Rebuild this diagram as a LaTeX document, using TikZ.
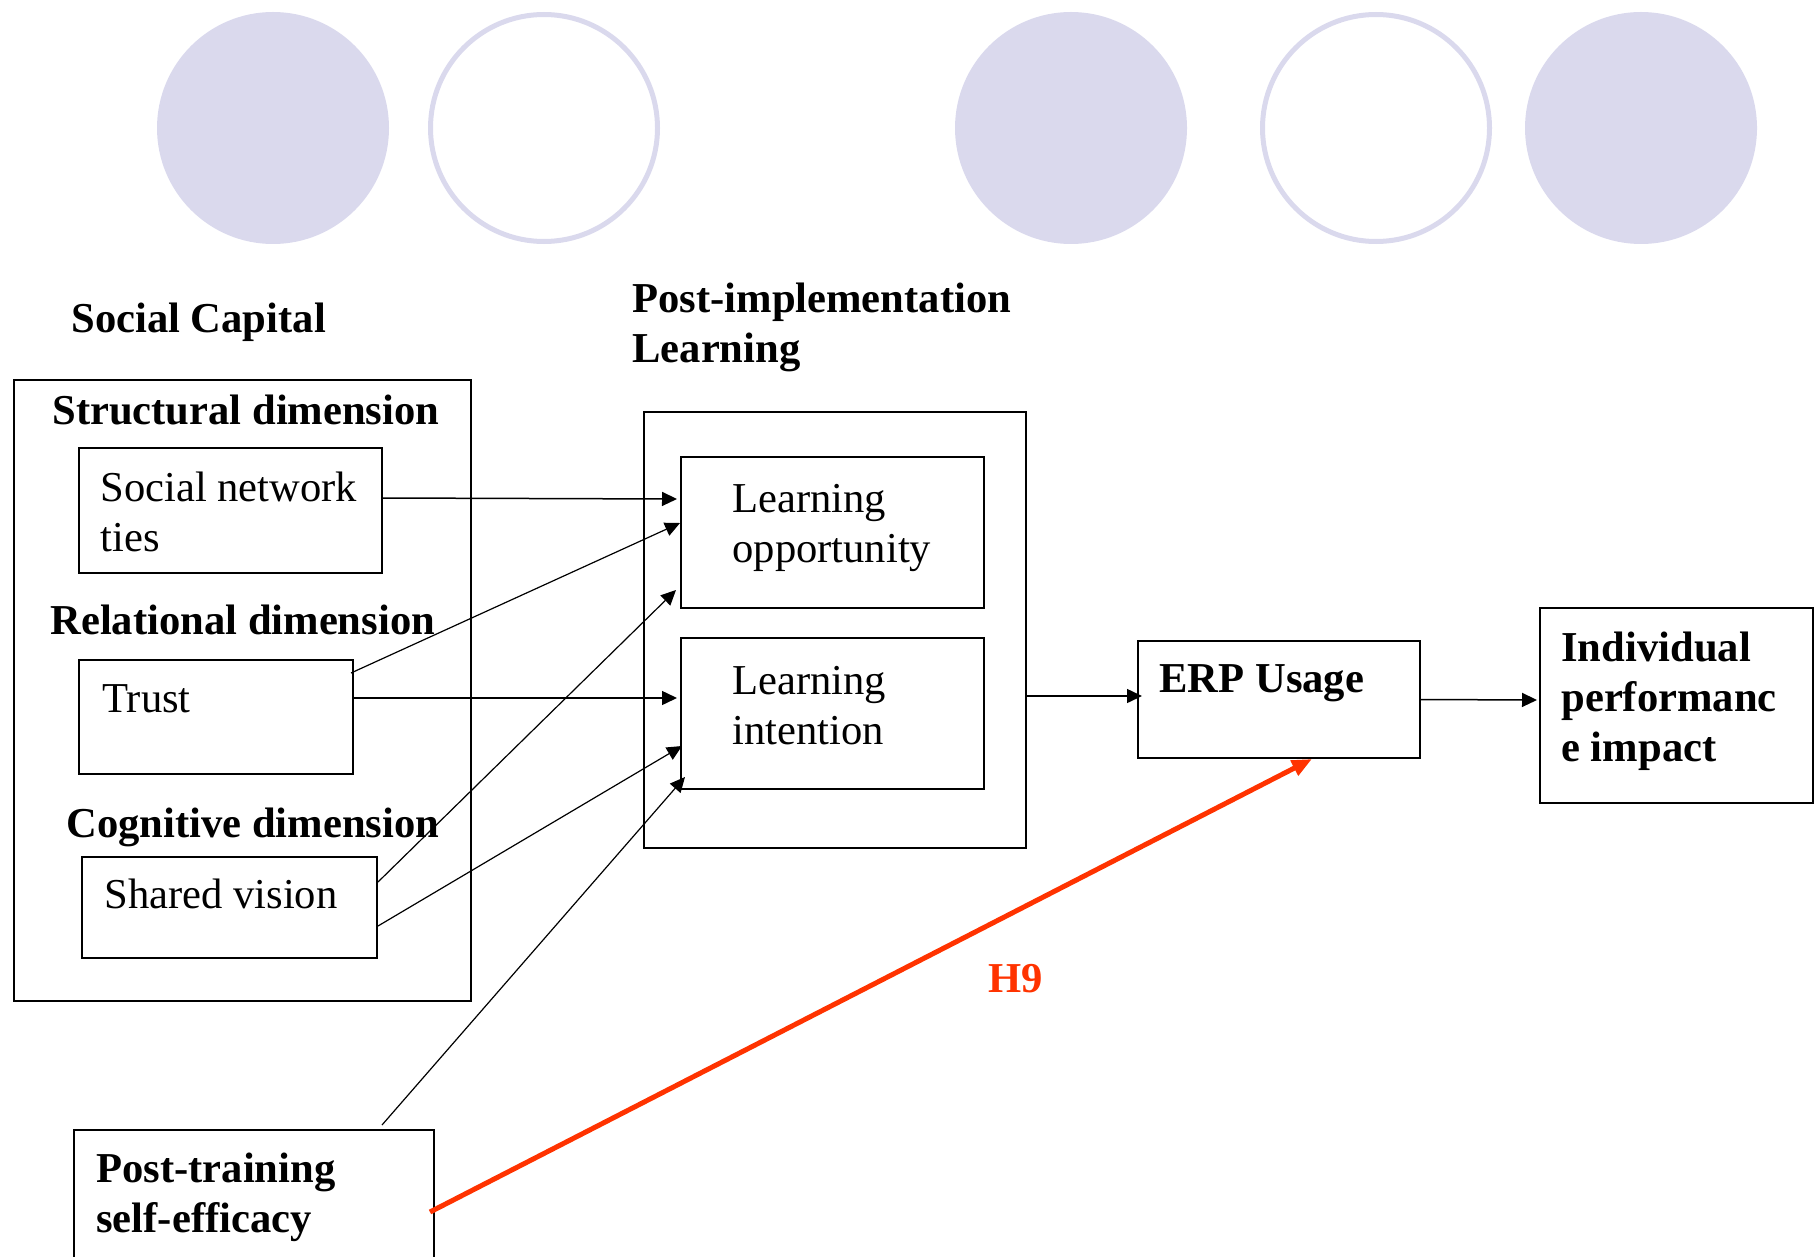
\documentclass[tikz,border=0pt]{standalone}
\usepackage{fontspec}
\setmainfont{Liberation Serif}
\usetikzlibrary{arrows.meta}
\definecolor{lav}{RGB}{218,217,237}
\definecolor{hred}{RGB}{255,51,0}
% left-aligned stack of lines whose baseline is that of the first line
\newcommand\linestack[1]{\begin{tabular}[t]{@{}l@{}}#1\end{tabular}}
\begin{document}
\begin{tikzpicture}[x=0.5pt,y=-0.5pt,
  box/.style={draw, line width=1pt, rectangle, inner sep=0pt},
  lbl/.style={anchor=base west, inner sep=0pt, font=\fontsize{21.3}{25}\selectfont},
  hd/.style={anchor=base west, inner sep=0pt, font=\fontsize{21.3}{25}\selectfont\bfseries},
  link/.style={line width=0.75pt, -{Triangle[length=7.5pt,width=7pt]}},
]
\useasboundingbox (0,0) rectangle (1814,1257);
\clip (0,0) rectangle (1814,1257);

% decorative discs along the top
\fill[lav] (273,128) circle[radius=58pt];
\draw[lav, line width=2.5pt] (544,128) circle[radius=56.75pt];
\fill[lav] (1071,128) circle[radius=58pt];
\draw[lav, line width=2.5pt] (1376,128) circle[radius=56.75pt];
\fill[lav] (1641,128) circle[radius=58pt];

% group headings
\node[hd] (schead) at (71,332) {Social Capital};
\node[hd] (plhead) at (632,312) {\linestack{Post-implementation\\Learning}};

% social capital group
\node[box, minimum width=228.5pt, minimum height=310.5pt] (sc) at (242.5,690.5) {};
\node[hd] (structural) at (52,424) {Structural dimension};
\node[box, minimum width=151.5pt, minimum height=62.5pt] (snt) at (230.5,510.5) {};
\node[lbl] (snttext) at (100,501) {\linestack{Social network\\ties}};
\node[hd] (relational) at (50,634) {Relational dimension};
\node[box, minimum width=137pt, minimum height=57pt] (trust) at (216,717) {};
\node[lbl] (trusttext) at (102,712) {Trust};
\node[hd] (cognitive) at (66,837) {Cognitive dimension};
\node[box, minimum width=147.5pt, minimum height=50.5pt] (sv) at (229.5,907.5) {};
\node[lbl] (svtext) at (104,908) {Shared vision};

% post-implementation learning group
\node[box, minimum width=191pt, minimum height=218pt] (lbox) at (835,630) {};
\node[box, minimum width=151.5pt, minimum height=75.5pt] (lo) at (832.5,532.5) {};
\node[lbl] (lotext) at (732,512) {\linestack{Learning\\opportunity}};
\node[box, minimum width=151.5pt, minimum height=75.5pt] (li) at (832.5,713.5) {};
\node[lbl] (litext) at (732,694) {\linestack{Learning\\intention}};

% outcomes
\node[box, minimum width=141pt, minimum height=58.5pt] (erp) at (1279,699.5) {};
\node[hd] (erptext) at (1159,692) {ERP Usage};
\node[box, minimum width=136.5pt, minimum height=97.5pt] (indiv) at (1676.5,705.5) {};
\node[hd] (indivtext) at (1561,661) {\linestack{Individual\\performanc\\e impact}};

% self-efficacy
\node[box, minimum width=180pt, minimum height=80pt] (pt) at (254,1210) {};
\node[hd] (pttext) at (96,1182) {\linestack{Post-training\\self-efficacy}};

% paths
\draw[link] ([yshift=6.25pt]snt.east) -- ([xshift=-1.5pt,yshift=16.75pt]lo.west);
\draw[link, line width=0.6pt] ([xshift=-1.5pt,yshift=-7pt]trust.north east) -- ([yshift=4.75pt]lo.west);
\draw[link] ([yshift=9.5pt]trust.east) -- ([xshift=-1.5pt,yshift=7.75pt]li.west);
\draw[link, line width=0.6pt] ([yshift=12.75pt]sv.east) -- ([xshift=-2pt,yshift=-28.75pt]lo.west);
\draw[link, line width=0.6pt] ([yshift=-9.25pt]sv.east) -- ([xshift=1pt,yshift=-16.25pt]li.west);
\draw[link, line width=0.6pt] ([xshift=64pt,yshift=2pt]pt.north) -- ([xshift=2.5pt,yshift=-31.75pt]li.west);
\draw[link] ([yshift=-33pt]lbox.east) -- ([xshift=2.5pt,yshift=1.75pt]erp.west);
\draw[link] (erp.east) -- ([xshift=-1pt,yshift=2.75pt]indiv.west);
\draw[hred, line width=2.5pt, -{Triangle[length=10pt,width=8pt]}]
  ([xshift=-2.5pt,yshift=-1pt]pt.east) -- ([xshift=16.5pt]erp.south);
\node[hd, text=hred] (h9) at (988,992) {H9};
\end{tikzpicture}
\end{document}
